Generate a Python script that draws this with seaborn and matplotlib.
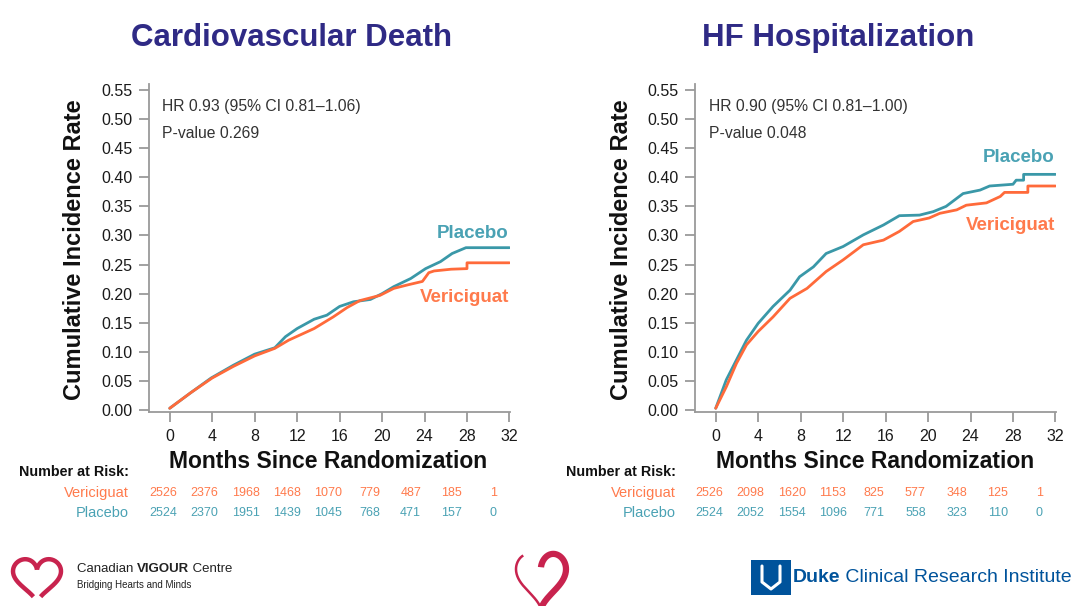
import numpy as np
import pandas as pd
import matplotlib
matplotlib.use("Agg")
import matplotlib.pyplot as plt
import matplotlib.transforms as mtransforms
from matplotlib.patches import Rectangle
import seaborn as sns

# ---------------- data ----------------
months_ticks = [0, 4, 8, 12, 16, 20, 24, 28, 32]
y_ticks = [0.00, 0.05, 0.10, 0.15, 0.20, 0.25, 0.30, 0.35, 0.40, 0.45, 0.50, 0.55]

titles = ["Cardiovascular Death", "HF Hospitalization"]
hr_text = ["HR 0.93 (95% CI 0.81\u20131.06)", "HR 0.90 (95% CI 0.81\u20131.00)"]
p_text = ["P-value 0.269", "P-value 0.048"]

# Cardiovascular death curves (month, cumulative incidence)
cv_placebo_m = [0, 2, 3.9, 6, 8, 9.9, 10.9, 12, 13.6, 14.8, 16, 17.3, 18.9, 20, 21.1, 22.7, 24.1, 25.5, 26.6, 27.9, 32]
cv_placebo_r = [0.003, 0.030, 0.055, 0.077, 0.096, 0.107, 0.126, 0.140, 0.156, 0.163, 0.178, 0.186, 0.190, 0.200,
                0.212, 0.226, 0.243, 0.255, 0.269, 0.279, 0.279]
cv_vericiguat_m = [0, 2, 4, 6, 8, 9.9, 11.2, 13.6, 15.4, 16.7, 17.9, 19.8, 21.1, 22.4, 23.8, 24.4, 24.9, 26.5, 28.0,
                   28.0, 32]
cv_vericiguat_r = [0.003, 0.030, 0.055, 0.075, 0.093, 0.106, 0.120, 0.140, 0.160, 0.176, 0.188, 0.197, 0.209, 0.215,
                   0.221, 0.236, 0.239, 0.242, 0.243, 0.253, 0.253]

# HF hospitalization curves
hf_placebo_m = [0, 1.0, 1.95, 2.9, 4.0, 5.4, 7.0, 7.9, 9.2, 10.4, 12.0, 13.9, 15.8, 17.3, 19.2, 20.5, 21.7, 23.3,
                24.9, 25.8, 28.0, 28.3, 29.0, 29.0, 32]
hf_placebo_r = [0.003, 0.052, 0.086, 0.120, 0.149, 0.178, 0.206, 0.229, 0.246, 0.269, 0.281, 0.301, 0.318, 0.334,
                0.335, 0.341, 0.350, 0.372, 0.378, 0.385, 0.388, 0.395, 0.395, 0.405, 0.405]
hf_vericiguat_m = [0, 1.0, 1.95, 2.9, 4.0, 5.4, 7.0, 8.6, 10.4, 12.0, 13.9, 15.8, 17.3, 18.6, 20.1, 21.1, 22.7, 23.6,
                   25.5, 26.8, 27.2, 29.4, 29.4, 32]
hf_vericiguat_r = [0.003, 0.040, 0.080, 0.112, 0.135, 0.160, 0.192, 0.209, 0.238, 0.258, 0.284, 0.292, 0.307, 0.324,
                   0.330, 0.338, 0.344, 0.352, 0.356, 0.367, 0.374, 0.374, 0.385, 0.385]

# number at risk
cv_risk_vericiguat = [2526, 2376, 1968, 1468, 1070, 779, 487, 185, 1]
cv_risk_placebo = [2524, 2370, 1951, 1439, 1045, 768, 471, 157, 0]
hf_risk_vericiguat = [2526, 2098, 1620, 1153, 825, 577, 348, 125, 1]
hf_risk_placebo = [2524, 2052, 1554, 1096, 771, 558, 323, 110, 0]

arms = ["Placebo", "Vericiguat"]

# ---------------- style ----------------
sns.set_theme(style="ticks")
plt.rcParams["font.family"] = ["Liberation Sans", "DejaVu Sans"]

TEAL = "#3A98A8"
ORANGE = "#FF6A3A"
TEAL_TXT = "#4AA2B4"
ORANGE_TXT = "#FF7A4C"
TITLE_C = "#2F2A85"
SPINE_C = "#9A9A9A"

W, H = 1080, 606
fig = plt.figure(figsize=(W / 100, H / 100), dpi=100)
fig.patch.set_facecolor("white")
renderer = fig.canvas.get_renderer()


def fx(px):
    return px / W


def fy(py):
    return 1 - py / H


def make_df(pm, pr, vm, vr):
    return pd.concat([
        pd.DataFrame({"month": pm, "rate": pr, "arm": "Placebo"}),
        pd.DataFrame({"month": vm, "rate": vr, "arm": "Vericiguat"}),
    ], ignore_index=True)


panels = [
    dict(left=149, df=make_df(cv_placebo_m, cv_placebo_r, cv_vericiguat_m, cv_vericiguat_r),
         risk_v=cv_risk_vericiguat, risk_p=cv_risk_placebo,
         title_x=292, ylab_x=75, pl_y=234, ve_y=297, lab_right=129, hr_x=162, xlab_x=328),
    dict(left=695, df=make_df(hf_placebo_m, hf_placebo_r, hf_vericiguat_m, hf_vericiguat_r),
         risk_v=hf_risk_vericiguat, risk_p=hf_risk_placebo,
         title_x=838, ylab_x=622, pl_y=158, ve_y=225, lab_right=676, hr_x=709, xlab_x=875),
]

for i, p in enumerate(panels):
    ax = fig.add_axes([fx(p["left"]), fy(412), 361 / W, 328 / H])
    sns.lineplot(data=p["df"], x="month", y="rate", hue="arm", hue_order=arms,
                 palette={"Placebo": TEAL, "Vericiguat": ORANGE},
                 estimator=None, sort=False, legend=False, linewidth=2.0, ax=ax)
    ax.set_xlim(-1.95, 32.05)
    ax.set_ylim(-0.0034, 0.5603)
    ax.set_xticks(months_ticks)
    ax.set_xticklabels([str(m) for m in months_ticks])
    ax.set_yticks(y_ticks)
    ax.set_yticklabels([f"{v:.2f}" for v in y_ticks])
    ax.set_xlabel("")
    ax.set_ylabel("")
    for s in ["top", "right"]:
        ax.spines[s].set_visible(False)
    for s in ["left", "bottom"]:
        ax.spines[s].set_color(SPINE_C)
        ax.spines[s].set_linewidth(1.3)
    ax.tick_params(axis="both", colors=SPINE_C, width=1.3, length=7, labelsize=11.5, labelcolor="#1a1a1a")
    ax.tick_params(axis="y", pad=5)
    ax.tick_params(axis="x", pad=5)
    ax.set_facecolor("white")

    # annotations
    fig.text(fx(p["hr_x"]), fy(107), hr_text[i], fontsize=11.3, color="#333333", ha="left", va="center")
    fig.text(fx(p["hr_x"]), fy(134), p_text[i], fontsize=11.3, color="#333333", ha="left", va="center")
    right_px = p["left"] + 360
    fig.text(fx(right_px), fy(p["pl_y"]), "Placebo", fontsize=13.5, fontweight="bold", color=TEAL_TXT,
             ha="right", va="center")
    fig.text(fx(right_px), fy(p["ve_y"]), "Vericiguat", fontsize=13.5, fontweight="bold", color=ORANGE_TXT,
             ha="right", va="center")

    # titles and axis labels
    fig.text(fx(p["title_x"]), fy(38), titles[i], fontsize=22.5, fontweight="bold",
             color=TITLE_C, ha="center", va="center")
    fig.text(fx(p["xlab_x"]), fy(461), "Months Since Randomization", fontsize=16.5, fontweight="bold",
             color="#111111", ha="center", va="center")
    fig.text(fx(p["ylab_x"]), fy(250), "Cumulative Incidence Rate", fontsize=17, fontweight="bold",
             color="#111111", ha="center", va="center", rotation=90)

    # number at risk table
    fig.text(fx(p["lab_right"]), fy(472), "Number at Risk:", fontsize=10.3, fontweight="bold",
             color="#111111", ha="right", va="center")
    fig.text(fx(p["lab_right"]), fy(493), "Vericiguat", fontsize=10.5, color=ORANGE_TXT, ha="right", va="center")
    fig.text(fx(p["lab_right"]), fy(513), "Placebo", fontsize=10.5, color=TEAL_TXT, ha="right", va="center")
    trans = mtransforms.blended_transform_factory(ax.transData, fig.transFigure)
    for m, nv, npb in zip(months_ticks, p["risk_v"], p["risk_p"]):
        xpos = m * (41.25 / 42.5) - 0.6
        ax.text(xpos, fy(493), str(nv), transform=trans, fontsize=9, color=ORANGE_TXT,
                ha="center", va="center", clip_on=False)
        ax.text(xpos, fy(513), str(npb), transform=trans, fontsize=9, color=TEAL_TXT,
                ha="center", va="center", clip_on=False)

# ---------------- footer logos ----------------
lax = fig.add_axes([0, 0, 1, 1], zorder=-1)
lax.set_xlim(0, W)
lax.set_ylim(H, 0)
lax.axis("off")

HEART_C = "#C8234E"
t = np.linspace(0, 2 * np.pi, 400)
hx = 16 * np.sin(t) ** 3
hy = 13 * np.cos(t) - 5 * np.cos(2 * t) - 2 * np.cos(3 * t) - np.cos(4 * t)


def heart(cx, cy, w, h, sel=None, lw=3.0):
    x = cx + hx / 32 * w
    y = cy - (hy - 1.5) / 29 * h
    if sel is not None:
        x, y = x[sel], y[sel]
    lax.plot(x, y, color=HEART_C, lw=lw, solid_capstyle="butt")


def run_text(x0, y, parts, size, color):
    """Place consecutive text runs (text, weight) starting at pixel x0."""
    x = x0
    for txt, wt in parts:
        tt = fig.text(fx(x), fy(y), txt, fontsize=size, fontweight=wt, color=color, ha="left", va="center")
        x += tt.get_window_extent(renderer=renderer).width


# left heart (outline with gaps)
heart(37, 575, 48, 44, sel=slice(0, 165), lw=3.2)
heart(37, 575, 48, 44, sel=slice(235, 400), lw=3.2)
run_text(77, 569, [("Canadian ", "normal"), ("VIGOUR", "bold"), (" Centre", "normal")], 9.5, "#222222")
fig.text(fx(77), fy(585), "Bridging Hearts and Minds", fontsize=7, color="#222222", ha="left", va="center")

# middle heart (stylised)
heart(541, 574, 50, 56, sel=slice(0, 201), lw=4.5)
heart(541, 574, 50, 56, sel=slice(200, 330), lw=1.8)

# Duke logo
lax.add_patch(Rectangle((751, 560), 40, 35, facecolor="#00539B", edgecolor="none"))
lax.plot([762, 762, 771, 780, 780], [566, 582, 589, 582, 566], color="white", lw=2.2)
run_text(793, 578, [("Duke", "bold"), (" Clinical Research Institute", "normal")], 14, "#00539B")

fig.savefig("out.png", dpi=100, facecolor="white")
